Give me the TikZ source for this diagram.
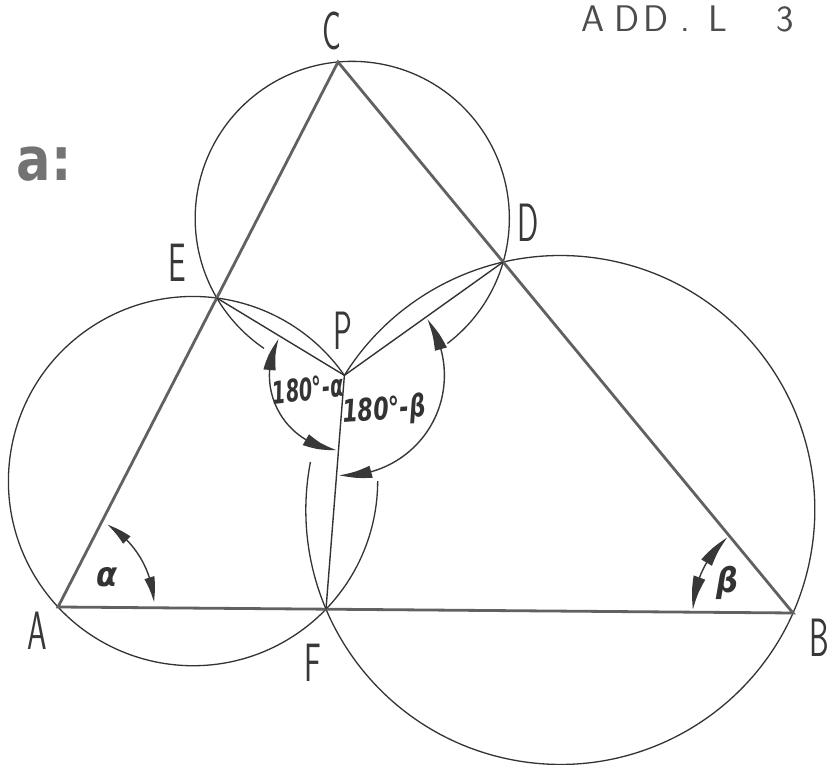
\documentclass[tikz,border=0pt]{standalone}
\usepackage{fontspec}
\newfontfamily\djv{DejaVu Sans}
\usetikzlibrary{arrows.meta,bending,calc}
\newcommand{\cond}[2][0.58]{\scalebox{#1}[1]{#2}}
\tikzset{
  tri/.style={draw=black!62, line width=2.8pt, line join=miter},
  circ/.style={draw=black!80, line width=1.3pt},
  chord/.style={draw=black!80, line width=1.4pt},
  anglearc/.style={draw=black!78, line width=1.4pt,
    {Triangle[length=33pt,width=12pt,bend]}-{Triangle[length=33pt,width=12pt,bend]}},
  smallarc/.style={draw=black!78, line width=1.4pt,
    {Triangle[length=25pt,width=10pt,bend]}-{Triangle[length=25pt,width=10pt,bend]}},
  lbl/.style={text=black!78, font=\sffamily\fontsize{54}{54}\selectfont, inner sep=0pt},
  ttl/.style={text=black!70, font=\sffamily\fontsize{37}{37}\selectfont, inner sep=0pt,
    text height=25.8pt, text depth=0pt},
  angtxt/.style={text=black!80, font=\djv\bfseries\itshape\fontsize{31}{31}\selectfont, inner sep=0pt},
  greek/.style={text=black!80, font=\djv\bfseries\itshape\fontsize{34}{34}\selectfont, inner sep=0pt}
}
\begin{document}
\begin{tikzpicture}[x=1pt,y=1pt]
\useasboundingbox (0,0) rectangle (830,765);
\fill[white] (0,0) rectangle (830,765);
% points
\coordinate (A) at (58,158);
\coordinate (B) at (793,152);
\coordinate (C) at (338,703);
\coordinate (D) at (503.2,503);
\coordinate (E) at (216.8,467);
\coordinate (F) at (326,155.8);
\coordinate (P) at (344.39,389.66);
\coordinate (O1) at (193.04,283.9);
\coordinate (O2) at (352.26,546.55);
\coordinate (O3) at (560.32,255.03);
% circles (with gaps near P)
\draw[circ] ($(O1)+(34.94:184.63)$) arc[start angle=34.94,end angle=360,radius=184.63];
\draw[circ] ($(O2)+(-52.74:157.1)$) arc[start angle=-52.74,end angle=235.84,radius=157.1];
\draw[circ] ($(O3)+(169.15:254.46)$) arc[start angle=169.15,end angle=508.06,radius=254.46];
% triangle
\draw[tri] (A) -- (B) -- (C) -- cycle;
% chords from P
\draw[chord] (E) -- (P) -- (D);
\draw[chord] (P) -- (F);
% angle arcs
\draw[smallarc] ($(A)+(3:96)$) arc[start angle=3,end angle=59,radius=96];
\draw[anglearc] ($(B)+(131:100)$) arc[start angle=131,end angle=178,radius=100];
\draw[anglearc] ($(P)+(151:75)$) arc[start angle=151,end angle=264,radius=75];
\draw[anglearc] ($(P)+(-93:100)$) arc[start angle=-93,end angle=34,radius=100];
% labels
\node[lbl] (lC) at (332,734) {\cond{C}};
\node[lbl] (lD) at (528,542) {\cond{D}};
\node[lbl] (lE) at (177,502) {\cond{E}};
\node[lbl] (lP) at (343,434) {\cond{P}};
\node[lbl] (lA) at (37,134) {\cond{A}};
\node[lbl] (lF) at (313,102) {\cond{F}};
\node[lbl] (lB) at (819,127) {\cond{B}};
\node[greek] (la) at (107,188) {\cond[0.9]{α}};
\node[greek] (lb) at (727,182) {\cond[0.9]{β}};
\node[angtxt, rotate=6] (t1) at (308,376) {\cond[0.62]{180°-α}};
\node[angtxt, rotate=4] (t2) at (384,354) {\cond[0.72]{180°-β}};
\node[text=black!55, font=\djv\bfseries\fontsize{60}{60}\selectfont, inner sep=0pt] (part) at (44,601) {\cond[0.85]{a:}};
\node[ttl, anchor=base west] (title) at (581,733) {A\kern10pt D\kern4pt D\kern12pt .\kern18pt L\kern50pt 3};
\end{tikzpicture}
\end{document}
